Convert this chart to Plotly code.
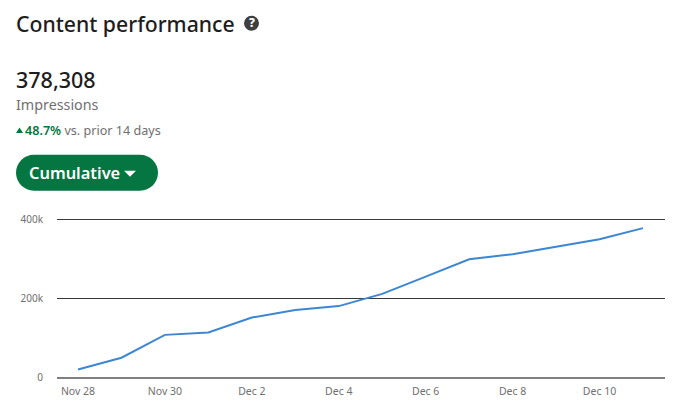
import plotly.graph_objects as go
from datetime import datetime, timedelta

dates = ["2023-11-28","2023-11-29","2023-11-30","2023-12-01","2023-12-02","2023-12-03","2023-12-04",
         "2023-12-05","2023-12-06","2023-12-07","2023-12-08","2023-12-09","2023-12-10","2023-12-11"]
impressions = [19000,49000,107000,113000,151000,170000,180000,211000,255000,299000,312000,331000,350000,378000]
y_ticks = [0,200000,400000]
y_labels = ["0","200k","400k"]
x_ticks = dates[::2]
x_labels = ["Nov 28","Nov 30","Dec 2","Dec 4","Dec 6","Dec 8","Dec 10"]

W, H = 680, 410
L, R, T, B = 57, 665, 214.5, 377.5
FONT = "Noto Sans"
def px(x): return (x - L) / (R - L)
def py(y): return (B - (y - 1)) / (B - T)

start = datetime(2023,11,28) - timedelta(days=21/43.5)
end = datetime(2023,12,11) + timedelta(days=22/43.5)

fig = go.Figure(go.Scatter(x=dates, y=impressions, mode="lines",
                           line=dict(color="#3d87d2", width=2), hoverinfo="skip"))

def text(x, y, s, size, color, weight=400):
    fig.add_annotation(x=px(x), y=py(y), xref="paper", yref="paper", text=s, showarrow=False,
                       xanchor="left", yanchor="middle", align="left",
                       font=dict(family=FONT, size=size, color=color, weight=weight),
                       borderpad=0, borderwidth=0)

text(16, 23, "Content performance", 21.2, "#1d1d1d", 500)
text(16, 79, "378,308", 21.5, "#1d1d1d", 500)
text(16, 104, "Impressions", 14.3, "#6f6f6f")
text(25, 130, "<span style='color:#057642;font-weight:600'>48.7%</span> vs. prior 14 days", 12.6, "#6f6f6f")
text(29, 173, "Cumulative", 16.4, "#ffffff", 600)
fig.add_annotation(x=px(251.5), y=py(22), xref="paper", yref="paper", text="?", showarrow=False,
                   xanchor="center", yanchor="middle", borderpad=0,
                   font=dict(family=FONT, size=12, color="#ffffff", weight=800))

def rounded(x0, y0, x1, y1):
    r = (y1 - y0) / 2
    k = 0.5523 * r
    a, b, c, d_, m = px(x0), px(x1), py(y0), py(y1), py((y0 + y1) / 2)
    return (f"M{px(x0+r)},{c} L{px(x1-r)},{c} "
            f"C{px(x1-r+k)},{c} {b},{py(y0+r-k)} {b},{m} "
            f"C{b},{py(y1-r+k)} {px(x1-r+k)},{d_} {px(x1-r)},{d_} "
            f"L{px(x0+r)},{d_} "
            f"C{px(x0+r-k)},{d_} {a},{py(y1-r+k)} {a},{m} "
            f"C{a},{py(y0+r-k)} {px(x0+r-k)},{c} {px(x0+r)},{c} Z")

fig.add_shape(type="path", xref="paper", yref="paper", path=rounded(16, 155, 158, 191),
              fillcolor="#057642", line_width=0, layer="below")
fig.add_shape(type="circle", xref="paper", yref="paper", x0=px(244), x1=px(259), y0=py(30), y1=py(15),
              fillcolor="#3f3f3f", line_width=0, layer="below")
fig.add_shape(type="path", xref="paper", yref="paper",
              path=f"M{px(124)},{py(171)} L{px(136)},{py(171)} L{px(130)},{py(177)} Z",
              fillcolor="#ffffff", line_width=0, layer="above")
fig.add_shape(type="path", xref="paper", yref="paper",
              path=f"M{px(16)},{py(133)} L{px(23)},{py(133)} L{px(19.5)},{py(127.5)} Z",
              fillcolor="#057642", line_width=0, layer="above")

fig.update_layout(
    width=W, height=H, autosize=False,
    margin=dict(l=L, r=W-R, t=T, b=H-B, pad=0),
    paper_bgcolor="#ffffff", plot_bgcolor="#ffffff", showlegend=False,
    font=dict(family=FONT, size=10.5, color="#6f6f6f"),
    xaxis=dict(type="date", range=[start, end], tickmode="array", tickvals=x_ticks, ticktext=x_labels,
               showgrid=False, zeroline=False, showline=True, linecolor="#7f7f7f", linewidth=1.5,
               ticks="outside", ticklen=4, tickcolor="rgba(0,0,0,0)",
               tickfont=dict(family=FONT, size=10.5, color="#6f6f6f"), fixedrange=True),
    yaxis=dict(range=[0,411400], tickmode="array", tickvals=y_ticks, ticktext=y_labels,
               showgrid=True, gridcolor="#3a3a3a", gridwidth=1, zeroline=False, showline=False,
               ticks="outside", ticklen=11, tickcolor="rgba(0,0,0,0)",
               tickfont=dict(family=FONT, size=10, color="#6f6f6f"), fixedrange=True),
)
fig.write_html("out.html", config=dict(displayModeBar=False),
               post_script="document.body.style.margin='0';")
